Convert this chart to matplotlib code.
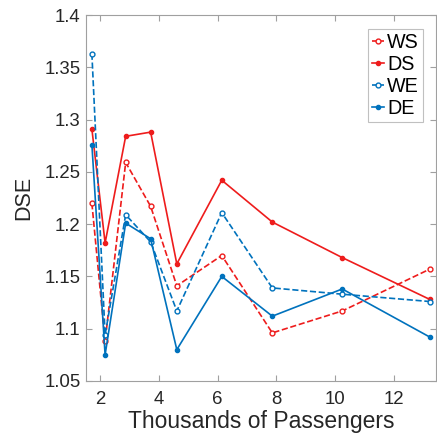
import matplotlib
matplotlib.use("Agg")
import matplotlib.pyplot as plt
from matplotlib.ticker import FormatStrFormatter, MultipleLocator

plt.rcParams['font.family'] = ['Liberation Sans', 'DejaVu Sans']

# Passenger counts (thousands) for each observation
passengers = [1.72, 2.17, 2.87, 3.72, 4.61, 6.14, 7.86, 10.24, 13.22]

ws = [1.220, 1.088, 1.259, 1.217, 1.141, 1.170, 1.096, 1.117, 1.157]
ds = [1.291, 1.182, 1.284, 1.288, 1.162, 1.242, 1.202, 1.168, 1.128]
we = [1.363, 1.094, 1.209, 1.183, 1.117, 1.211, 1.139, 1.133, 1.126]
de = [1.276, 1.075, 1.201, 1.186, 1.080, 1.150, 1.112, 1.138, 1.092]

series_names = ['WS', 'DS', 'WE', 'DE']

red = '#ee1c1c'
blue = '#0072BD'

fig = plt.figure(figsize=(4.37, 4.44), dpi=100)
ax = fig.add_axes([0.1968, 0.1419, 0.8009, 0.8243])

ax.plot(passengers, ws, linestyle='--', color=red, lw=1.2, marker='o',
        ms=3.5, mfc='white', mew=1.0, label=series_names[0])
ax.plot(passengers, ds, linestyle='-', color=red, lw=1.2, marker='o',
        ms=3, mfc=red, mew=1.0, label=series_names[1])
ax.plot(passengers, we, linestyle='--', color=blue, lw=1.2, marker='o',
        ms=3.5, mfc='white', mew=1.0, label=series_names[2])
ax.plot(passengers, de, linestyle='-', color=blue, lw=1.2, marker='o',
        ms=3, mfc=blue, mew=1.0, label=series_names[3])

ax.set_xlim(1.52, 13.43)
ax.set_ylim(1.05, 1.4)
ax.xaxis.set_major_locator(MultipleLocator(2))
ax.yaxis.set_major_locator(MultipleLocator(0.05))
ax.yaxis.set_major_formatter(FormatStrFormatter('%g'))

for s in ax.spines.values():
    s.set_color('#a0a0a0')
    s.set_linewidth(0.8)
ax.tick_params(direction='in', length=4, width=0.8, color='#a0a0a0',
               top=True, right=True, labelsize=13.4, labelcolor='#262626')
ax.tick_params(axis='x', pad=7)
ax.tick_params(axis='y', pad=4)

ax.set_xlabel('Thousands of Passengers', fontsize=16.5, color='#262626', labelpad=2)
ax.set_ylabel('DSE', fontsize=15.5, color='#262626', labelpad=7)

leg = ax.legend(loc='upper right', bbox_to_anchor=(0.963, 0.962), fontsize=14.2,
                handlelength=0.65, handletextpad=0.15, labelspacing=0.15,
                borderpad=0.2, borderaxespad=0.0, fancybox=False, framealpha=1)
leg.get_frame().set_edgecolor('#c0c0c0')
leg.get_frame().set_linewidth(0.8)

fig.savefig('out.png', dpi=100)
